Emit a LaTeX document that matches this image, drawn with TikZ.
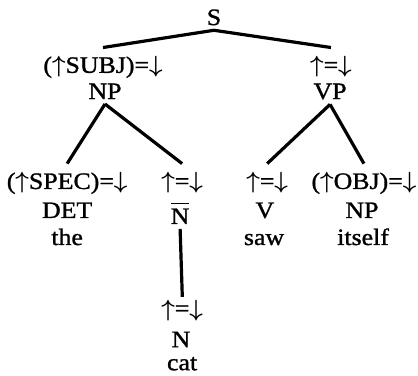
\RequirePackage{fix-cm}
\documentclass[tikz,border=0pt]{standalone}
\usepackage{bm}
\usepackage{fontspec}
\setmainfont{Liberation Serif}[FakeStretch=1.1, FakeBold=1.2]
\newcommand{\upar}{\ensuremath{\bm{\uparrow}}}
\newcommand{\dnar}{\ensuremath{\bm{\downarrow}}}

\begin{document}
\begin{tikzpicture}
	[ann/.style ={anchor=base, inner sep=1pt, outer sep=8pt, font=\fontsize{23.5}{27}\selectfont},
	cat/.style ={anchor=base, inner sep=1pt, outer sep=4pt, font=\fontsize{23.5}{27}\selectfont},
	word/.style ={anchor=base, inner sep=1pt, font=\fontsize{23.5}{27}\selectfont},
	line/.style ={draw, line width=3.2pt}]
	\useasboundingbox (0, 0) rectangle (14.69, 13.18);
	\draw (7.52, 12.30) node[cat] (s) {S};
	\draw (3.62, 10.62) node[ann] (subj) {(\upar SUBJ)=\dnar};
	\draw (3.69, 9.70) node[cat] (np) {NP};
	\draw (11.63, 10.62) node[ann] (vphd) {\upar=\dnar};
	\draw (11.60, 9.70) node[cat] (vp) {VP};
	\draw (2.36, 6.54) node[ann] (spec) {(\upar SPEC)=\dnar};
	\draw (2.36, 5.52) node[cat] (det) {DET};
	\draw (2.36, 4.57) node[word] (the) {the};
	\draw (6.40, 6.54) node[ann] (nbarhd) {\upar=\dnar};
	\draw (6.33, 5.31) node[cat] (nbar) {$\overline{\raisebox{0pt}[19pt]{N}}$};
	\draw (9.39, 6.54) node[ann] (vhd) {\upar=\dnar};
	\draw (9.31, 5.52) node[cat] (v) {V};
	\draw (9.28, 4.57) node[word] (saw) {saw};
	\draw (12.79, 6.54) node[ann] (obj) {(\upar OBJ)=\dnar};
	\draw (12.72, 5.52) node[cat] (objnp) {NP};
	\draw (12.76, 4.57) node[word] (itself) {itself};
	\draw (6.40, 2.07) node[ann] (nhd) {\upar=\dnar};
	\draw (6.36, 0.98) node[cat] (n) {N};
	\draw (6.40, 0.17) node[word] (cat) {cat};
	\draw[line] (s.south) -- (subj.north);
	\draw[line] (s.south) -- (vphd.north);
	\draw[line] (np.south) -- (spec.north);
	\draw[line] (np.south) -- (nbarhd.north);
	\draw[line] (vp.south) -- (vhd.north);
	\draw[line] (vp.south) -- (obj.north);
	\draw[line, shorten >=-6pt] (nbar.south) -- (nhd.north);
\end{tikzpicture}
\end{document}
